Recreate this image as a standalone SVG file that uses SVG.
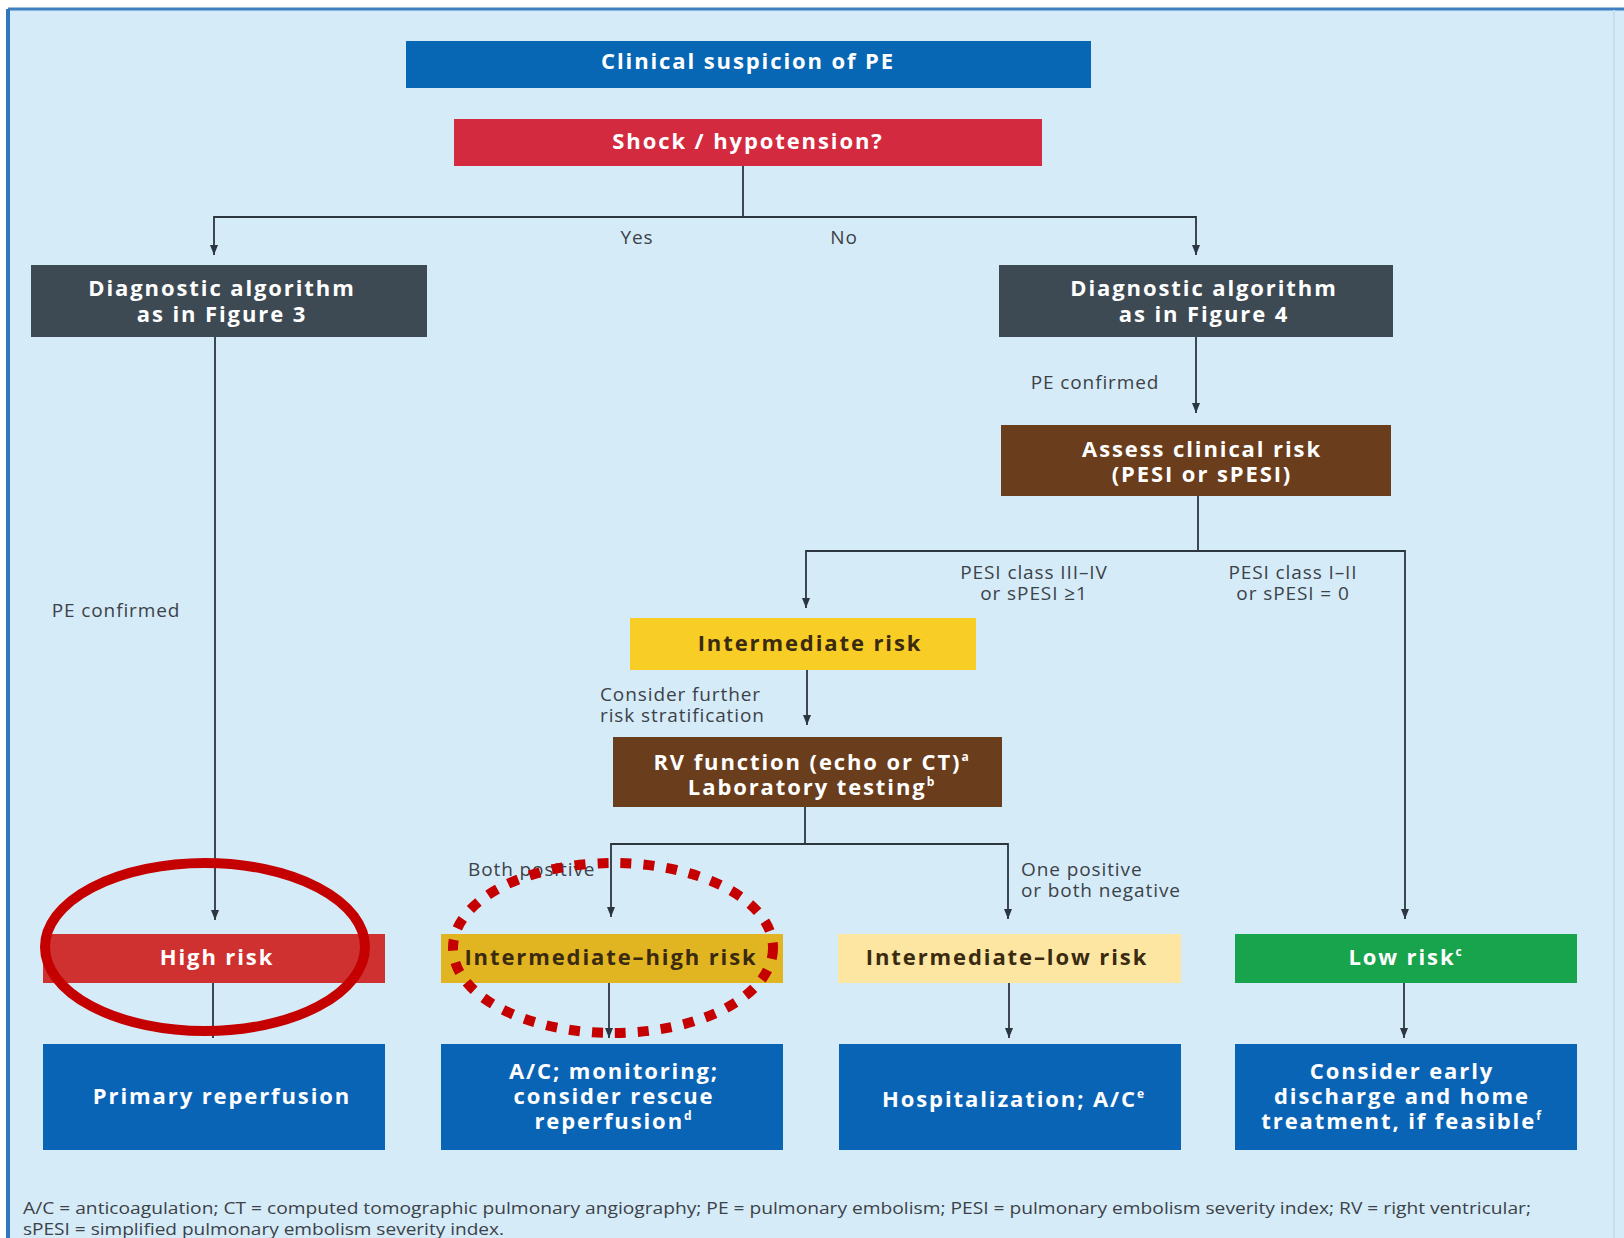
<svg xmlns="http://www.w3.org/2000/svg" width="1624" height="1238" viewBox="0 0 1624 1238">
<defs>
<style>
.bt{font-family:"Open Sans",Lato,"Liberation Sans",sans-serif;font-weight:bold;font-size:22px;letter-spacing:1.9px;fill:#fff;text-anchor:middle}
.dk{fill:#3a2a10}
.lb{font-family:"Open Sans",Lato,"Liberation Sans",sans-serif;font-size:19px;letter-spacing:0.9px;fill:#3b4248}
.mid{text-anchor:middle}
.ft{font-family:"Open Sans",Lato,"Liberation Sans",sans-serif;font-size:16px;fill:#3b4248}
.cn{fill:none;stroke:#2b3640;stroke-width:1.8}
.sup{font-size:12px}
</style>
<marker id="ah" viewBox="0 0 10 10" refX="10" refY="5" markerWidth="10" markerHeight="10" markerUnits="userSpaceOnUse" orient="auto">
<path d="M0,1 L10,5 L0,9 Z" fill="#2b3640"/>
</marker>
</defs>
<rect x="0" y="0" width="1624" height="1238" fill="#ffffff"/>
<rect x="8" y="9" width="1616" height="1229" fill="#d6ebf8"/>
<line x1="8" y1="9" x2="1624" y2="9" stroke="#3d7fc0" stroke-width="3"/>
<line x1="8" y1="9" x2="8" y2="1238" stroke="#2f78c0" stroke-width="4"/>
<line x1="1614" y1="10" x2="1614" y2="1238" stroke="#c5dff0" stroke-width="2"/>

<g id="connectors">
<path class="cn" d="M743 166 V217"/>
<path class="cn" d="M743 217 H214 V255" marker-end="url(#ah)"/>
<path class="cn" d="M743 217 H1196 V255" marker-end="url(#ah)"/>
<path class="cn" d="M215 337 V920" marker-end="url(#ah)"/>
<path class="cn" d="M1196 337 V413" marker-end="url(#ah)"/>
<path class="cn" d="M1198 496 V551"/>
<path class="cn" d="M1198 551 H806 V608" marker-end="url(#ah)"/>
<path class="cn" d="M1198 551 H1405 V919" marker-end="url(#ah)"/>
<path class="cn" d="M807 670 V725" marker-end="url(#ah)"/>
<path class="cn" d="M805 807 V844"/>
<path class="cn" d="M805 844 H611 V917" marker-end="url(#ah)"/>
<path class="cn" d="M805 844 H1008 V919" marker-end="url(#ah)"/>
<path class="cn" d="M213 983 V1038" marker-end="url(#ah)"/>
<path class="cn" d="M609 983 V1038" marker-end="url(#ah)"/>
<path class="cn" d="M1009 983 V1038" marker-end="url(#ah)"/>
<path class="cn" d="M1404 983 V1038" marker-end="url(#ah)"/>
<text class="lb mid" x="637" y="244">Yes</text>
<text class="lb mid" x="844" y="244">No</text>
<text class="lb mid" x="1095" y="389">PE confirmed</text>
<text class="lb mid" x="116" y="617">PE confirmed</text>
<text class="lb mid" x="1034" y="579">PESI class III–IV<tspan x="1034" dy="21">or sPESI ≥1</tspan></text>
<text class="lb mid" x="1293" y="579">PESI class I–II<tspan x="1293" dy="21">or sPESI = 0</tspan></text>
<text class="lb" x="600" y="701">Consider further<tspan x="600" dy="21">risk stratification</tspan></text>
<text class="lb" x="468" y="876">Both positive</text>
<text class="lb" x="1021" y="876">One positive<tspan x="1021" dy="21">or both negative</tspan></text>
</g>

<g id="n-clinical">
<rect x="406" y="41" width="685" height="47" fill="#0767b4"/>
<text class="bt" x="748" y="69">Clinical suspicion of PE</text>
</g>
<g id="n-shock">
<rect x="454" y="119" width="588" height="47" fill="#d42a40"/>
<text class="bt" x="748" y="149">Shock / hypotension?</text>
</g>
<g id="n-diag3">
<rect x="31" y="265" width="396" height="72" fill="#3e4a53"/>
<text class="bt" x="222" y="296">Diagnostic algorithm<tspan x="222" dy="26">as in Figure 3</tspan></text>
</g>
<g id="n-diag4">
<rect x="999" y="265" width="394" height="72" fill="#3e4a53"/>
<text class="bt" x="1204" y="296">Diagnostic algorithm<tspan x="1204" dy="26">as in Figure 4</tspan></text>
</g>
<g id="n-assess">
<rect x="1001" y="425" width="390" height="71" fill="#6a3d1c"/>
<text class="bt" x="1202" y="457">Assess clinical risk<tspan x="1202" dy="25">(PESI or sPESI)</tspan></text>
</g>
<g id="n-intermediate">
<rect x="630" y="618" width="346" height="52" fill="#f8cd25"/>
<text class="bt dk" x="810" y="651">Intermediate risk</text>
</g>
<g id="n-rv">
<rect x="613" y="737" width="389" height="70" fill="#6a3d1c"/>
<text class="bt" x="812" y="770">RV function (echo or CT)<tspan class="sup" dy="-9">a</tspan><tspan x="812" y="795">Laboratory testing</tspan><tspan class="sup" dy="-9">b</tspan></text>
</g>
<g id="n-high">
<rect x="43" y="934" width="342" height="49" fill="#cf3130"/>
<text class="bt" x="217" y="965">High risk</text>
</g>
<g id="n-inthigh">
<rect x="441" y="934" width="342" height="49" fill="#e1b521"/>
<text class="bt dk" x="611" y="965">Intermediate–high risk</text>
</g>
<g id="n-intlow">
<rect x="838" y="934" width="343" height="49" fill="#fce6a2"/>
<text class="bt dk" x="1007" y="965">Intermediate–low risk</text>
</g>
<g id="n-low">
<rect x="1235" y="934" width="342" height="49" fill="#18a44c"/>
<text class="bt" x="1406" y="965">Low risk<tspan class="sup" dy="-9">c</tspan></text>
</g>
<g id="n-primary">
<rect x="43" y="1044" width="342" height="106" fill="#0a64b6"/>
<text class="bt" x="222" y="1104">Primary reperfusion</text>
</g>
<g id="n-ac">
<rect x="441" y="1044" width="342" height="106" fill="#0a64b6"/>
<text class="bt" x="614" y="1079">A/C; monitoring;<tspan x="614" y="1104">consider rescue</tspan><tspan x="614" y="1129">reperfusion</tspan><tspan class="sup" dy="-9">d</tspan></text>
</g>
<g id="n-hosp">
<rect x="839" y="1044" width="342" height="106" fill="#0a64b6"/>
<text class="bt" x="1014" y="1107">Hospitalization; A/C<tspan class="sup" dy="-9">e</tspan></text>
</g>
<g id="n-consider">
<rect x="1235" y="1044" width="342" height="106" fill="#0a64b6"/>
<text class="bt" x="1402" y="1079">Consider early<tspan x="1402" y="1104">discharge and home</tspan><tspan x="1402" y="1129">treatment, if feasible</tspan><tspan class="sup" dy="-9">f</tspan></text>
</g>

<g id="footer">
<text class="ft" x="23" y="1214" textLength="1508" lengthAdjust="spacingAndGlyphs">A/C = anticoagulation; CT = computed tomographic pulmonary angiography; PE = pulmonary embolism; PESI = pulmonary embolism severity index; RV = right ventricular;</text>
<text class="ft" x="23" y="1235" textLength="481" lengthAdjust="spacingAndGlyphs">sPESI = simplified pulmonary embolism severity index.</text>
</g>

<g id="highlights">
<ellipse cx="205" cy="947" rx="160" ry="84" fill="none" stroke="#c40000" stroke-width="10"/>
<ellipse cx="613" cy="948" rx="160" ry="85" fill="none" stroke="#c40000" stroke-width="10" stroke-dasharray="11 12"/>
</g>
</svg>
